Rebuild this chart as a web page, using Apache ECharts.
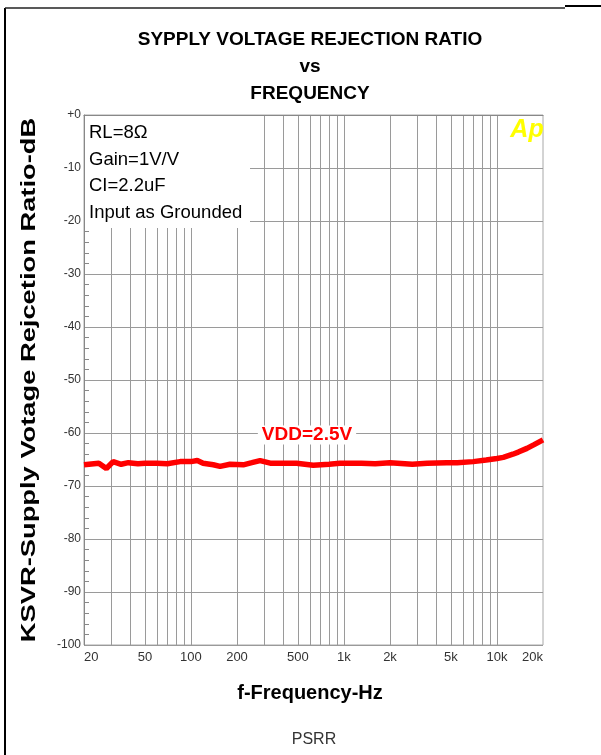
<!DOCTYPE html>
<html>
<head>
<meta charset="utf-8">
<script src="https://cdn.jsdelivr.net/npm/echarts@6/dist/echarts.min.js"></script>
<style>
  html, body { margin: 0; padding: 0; background: #fff; }
  #psrrChart { width: 601px; height: 755px; }
</style>
</head>
<body>
<div id="psrrChart"></div>
<script>
var freqHz = [20, 25, 28, 31, 35, 39, 45, 50, 60, 70, 85, 100, 110, 120, 140, 155, 180, 220, 250, 283, 330, 400, 490, 630, 800, 940, 1300, 1600, 2000, 2800, 3500, 4700, 5500, 7000, 8500, 10000, 11000, 12700, 13800, 15700, 17500, 20000];
var psrrDb = [-66.0, -65.7, -66.7, -65.4, -65.9, -65.6, -65.8, -65.7, -65.7, -65.8, -65.4, -65.4, -65.2, -65.7, -66.0, -66.3, -65.9, -66.0, -65.6, -65.2, -65.7, -65.7, -65.7, -66.1, -65.9, -65.7, -65.7, -65.8, -65.6, -65.9, -65.7, -65.6, -65.6, -65.4, -65.1, -64.8, -64.6, -64.0, -63.6, -62.9, -62.2, -61.3];

var xLabelHz = [20, 50, 100, 200, 500, 1000, 2000, 5000, 10000, 20000];
var xLabelText = ["20", "50", "100", "200", "500", "1k", "2k", "5k", "10k", "20k"];
var xGridHz = [30, 40, 50, 60, 70, 80, 90, 100, 200, 300, 400, 500, 600, 700, 800, 900, 1000, 2000, 3000, 4000, 5000, 6000, 7000, 8000, 9000, 10000];
var infoLines = ["RL=8\u03a9", "Gain=1V/V", "CI=2.2uF", "Input as Grounded"];

var gridCol = "#9a9a9a";
var lg = function (v) { return Math.log10(v); };

var myChart = echarts.init(document.getElementById("psrrChart"));

var infoTexts = infoLines.map(function (t, i) {
  return {
    type: "text", x: 89, y: 133 + i * 26.5, z: 3,
    style: { text: t, font: "18.5px 'Liberation Sans', Arial", fill: "#000", verticalAlign: "middle" }
  };
});

myChart.setOption({
  animation: false,
  title: {
    text: "SYPPLY VOLTAGE REJECTION RATIO\nvs\nFREQUENCY",
    left: 310, top: 26, padding: 0, textAlign: "center",
    textStyle: { fontFamily: "Liberation Sans", fontWeight: "bold", fontSize: 19, lineHeight: 27, color: "#000" }
  },
  grid: {
    left: 84, right: 58, top: 115, bottom: 110,
    show: true, borderColor: "#a8a8a8", borderWidth: 1
  },
  xAxis: {
    type: "value",
    min: lg(20), max: lg(20000),
    axisLine: { show: true, lineStyle: { color: "#888", width: 1 } },
    axisTick: { show: false, customValues: xGridHz.map(lg) },
    splitLine: { show: true, lineStyle: { color: gridCol, width: 1 } },
    axisLabel: {
      customValues: xLabelHz.map(lg),
      alignMinLabel: "left", alignMaxLabel: "right",
      margin: 6, fontSize: 13, color: "#333", fontFamily: "Liberation Sans",
      formatter: function (v) {
        for (var i = 0; i < xLabelHz.length; i++) {
          if (Math.abs(lg(xLabelHz[i]) - v) < 1e-6) return xLabelText[i];
        }
        return "";
      }
    }
  },
  yAxis: {
    type: "value",
    min: -100, max: 0, interval: 10,
    axisLine: { show: true, lineStyle: { color: "#888", width: 1 } },
    axisTick: { show: false, inside: true, length: 5 },
    minorTick: { show: true, splitNumber: 5, length: 5, lineStyle: { color: "#888" } },
    splitLine: { show: true, lineStyle: { color: gridCol, width: 1 } },
    axisLabel: {
      margin: 3, fontSize: 12, color: "#333", fontFamily: "Liberation Sans",
      formatter: function (v) { return v === 0 ? "+0" : String(v); }
    }
  },
  series: [
    {
      name: "VDD=2.5V",
      type: "line",
      symbol: "none",
      smooth: false,
      z: 5,
      lineStyle: { color: "#ff0000", width: 5.5 },
      data: freqHz.map(function (f, i) { return [lg(f), psrrDb[i]]; })
    }
  ],
  graphic: [
    // page frame
    { type: "line", z: 10, shape: { x1: 5, y1: 8, x2: 5, y2: 755 }, style: { stroke: "#000", lineWidth: 2 } },
    { type: "line", z: 10, shape: { x1: 5, y1: 8, x2: 565, y2: 8 }, style: { stroke: "#222", lineWidth: 1.5 } },
    { type: "line", z: 10, shape: { x1: 565, y1: 6, x2: 601, y2: 6 }, style: { stroke: "#000", lineWidth: 2 } },
    // white box behind the conditions
    { type: "rect", z: 2, shape: { x: 85, y: 116, width: 165, height: 112 }, style: { fill: "#fff" } }
  ].concat(infoTexts).concat([
    {
      type: "text", x: 307, y: 435, z: 6,
      style: {
        text: "VDD=2.5V", font: "bold 19px 'Liberation Sans', Arial", fill: "#ff0000",
        align: "center", verticalAlign: "middle", backgroundColor: "#fff", padding: [0, 4]
      }
    },
    {
      type: "text", x: 527, y: 130, z: 6,
      style: { text: "Ap", font: "italic bold 25px 'Liberation Sans', Arial", fill: "#ffff00", align: "center", verticalAlign: "middle" }
    },
    {
      type: "text", x: 29, y: 380, rotation: Math.PI / 2, scaleX: 1.3, z: 6,
      style: { text: "KSVR-Supply Votage Rejcetion Ratio-dB", font: "bold 21px 'Liberation Sans', Arial", fill: "#000", align: "center", verticalAlign: "middle" }
    },
    {
      type: "text", x: 310, y: 693, z: 6,
      style: { text: "f-Frequency-Hz", font: "bold 20px 'Liberation Sans', Arial", fill: "#000", align: "center", verticalAlign: "middle" }
    },
    {
      type: "text", x: 314, y: 740, z: 6,
      style: { text: "PSRR", font: "16px 'Liberation Sans', Arial", fill: "#333", align: "center", verticalAlign: "middle" }
    }
  ])
});
</script>
</body>
</html>
